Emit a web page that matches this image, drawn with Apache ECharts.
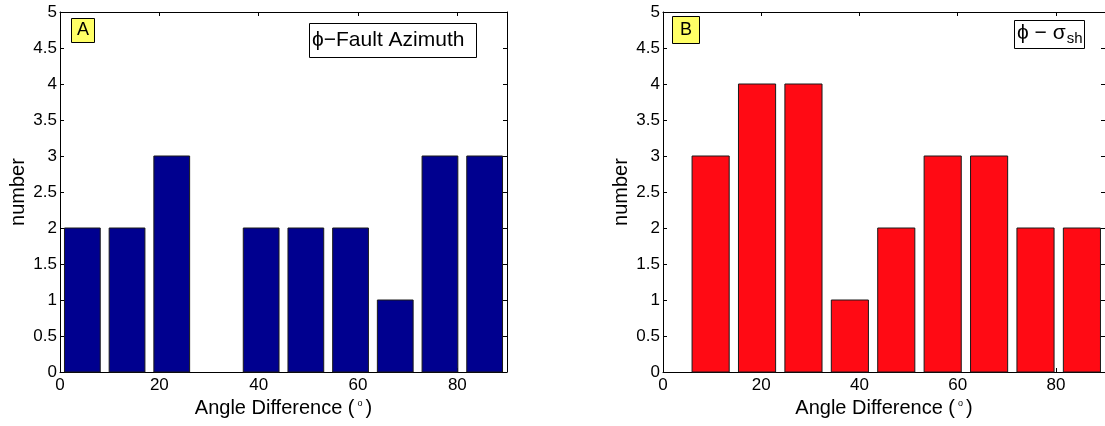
<!DOCTYPE html>
<html lang="en">
<head>
    <meta charset="utf-8" />
    <title>Angle Difference histograms</title>
    <script type="text/javascript" src="https://cdn.jsdelivr.net/npm/echarts@6/dist/echarts.min.js"></script>
    <style>
        html, body { margin: 0; padding: 0; background: #fff; }
        #chart { width: 1105px; height: 426px; }
    </style>
</head>
<body>
    <div id="chart"></div>

    <script type="text/javascript">
        // histogram A : phi - fault azimuth (10 bins, 0..90)
        var binCentersA = [4.5, 13.5, 22.5, 31.5, 40.5, 49.5, 58.5, 67.5, 76.5, 85.5];
        var countsA = [2, 2, 3, 0, 2, 2, 2, 1, 3, 3];
        var binWidthA = 9;

        // histogram B : phi - sigma_sh (9 bins)
        var binCentersB = [9.7, 19.15, 28.6, 38.05, 47.5, 56.95, 66.4, 75.85, 85.3];
        var countsB = [3, 4, 4, 1, 2, 3, 3, 2, 2];
        var binWidthB = 9.45;

        var xTicks = [0, 20, 40, 60, 80];
        var yTicks = [0, 0.5, 1, 1.5, 2, 2.5, 3, 3.5, 4, 4.5, 5];

        var FONT = "'Liberation Sans', Arial, Helvetica, sans-serif";
        var barFrac = 0.8;

        var chart = echarts.init(document.getElementById('chart'), null, { renderer: 'canvas' });

        function renderBar(params, api) {
            var c = api.value(0), h = api.value(1), w = api.value(2);
            if (h <= 0) return null;
            var p0 = api.coord([c - w / 2, h]);
            var p1 = api.coord([c + w / 2, 0]);
            return {
                type: 'rect',
                shape: { x: p0[0], y: p0[1], width: p1[0] - p0[0], height: p1[1] - p0[1] },
                style: { fill: api.visual('color'), stroke: '#1a1a1a', lineWidth: 1 }
            };
        }

        function makeData(centers, counts, bw) {
            return centers.map(function (c, i) { return [c, counts[i], bw * barFrac]; });
        }

        function bottomAxis(gridIndex) {
            return {
                type: 'value', gridIndex: gridIndex, min: 0, max: 90, interval: 20, position: 'bottom',
                name: 'Angle Difference ({deg|o})', nameLocation: 'middle', nameGap: 26,
                nameTextStyle: {
                    fontFamily: FONT, fontSize: 20, color: '#000',
                    rich: { deg: { fontFamily: FONT, fontSize: 9, color: '#000', verticalAlign: 'top', padding: [0, 3, 0, 3] } }
                },
                axisLine: { show: true, onZero: false, lineStyle: { color: '#000', width: 1 } },
                axisTick: { show: true, inside: true, length: 4, lineStyle: { color: '#000' } },
                axisLabel: {
                    fontFamily: FONT, fontSize: 17, color: '#000', margin: 5, showMaxLabel: false,
                    formatter: function (v) { return xTicks.indexOf(v) >= 0 ? String(v) : ''; }
                },
                splitLine: { show: false }
            };
        }

        function topAxis(gridIndex) {
            return {
                type: 'value', gridIndex: gridIndex, min: 0, max: 90, interval: 20, position: 'top',
                axisLine: { show: true, onZero: false, lineStyle: { color: '#000', width: 1 } },
                axisTick: { show: true, inside: true, length: 4, lineStyle: { color: '#000' } },
                axisLabel: { show: false },
                splitLine: { show: false }
            };
        }

        function leftAxis(gridIndex) {
            return {
                type: 'value', gridIndex: gridIndex, min: 0, max: 5, interval: 0.5, position: 'left',
                name: 'number', nameLocation: 'middle', nameGap: 32, nameRotate: 90,
                nameTextStyle: { fontFamily: FONT, fontSize: 20, color: '#000' },
                axisLine: { show: true, onZero: false, lineStyle: { color: '#000', width: 1 } },
                axisTick: { show: true, inside: true, length: 4, lineStyle: { color: '#000' } },
                axisLabel: { fontFamily: FONT, fontSize: 17, color: '#000', margin: 3 },
                splitLine: { show: false }
            };
        }

        function rightAxis(gridIndex) {
            return {
                type: 'value', gridIndex: gridIndex, min: 0, max: 5, interval: 0.5, position: 'right',
                axisLine: { show: true, onZero: false, lineStyle: { color: '#000', width: 1 } },
                axisTick: { show: true, inside: true, length: 4, lineStyle: { color: '#000' } },
                axisLabel: { show: false },
                splitLine: { show: false }
            };
        }

        var option = {
            backgroundColor: '#fff',
            animation: false,
            title: [
                {
                    text: 'A', left: 71, top: 18, padding: [3, 6, 4, 6],
                    backgroundColor: '#ffff66', borderColor: '#000', borderWidth: 1,
                    textStyle: { fontFamily: FONT, fontSize: 18, fontWeight: 'normal', color: '#000' }
                },
                {
                    text: 'B', left: 672, top: 16, padding: [5, 8, 5, 8],
                    backgroundColor: '#ffff66', borderColor: '#000', borderWidth: 1,
                    textStyle: { fontFamily: FONT, fontSize: 18, fontWeight: 'normal', color: '#000' }
                },
                {
                    text: '\u03d5\u2212Fault Azimuth', left: 309, top: 23, padding: [7, 12, 7, 3],
                    backgroundColor: '#fff', borderColor: '#000', borderWidth: 1,
                    textStyle: { fontFamily: FONT, fontSize: 21, fontWeight: 'normal', color: '#000' }
                },
                {
                    text: '{t|\u03d5 \u2212 \u03c3}{s|sh}', left: 1014, top: 18, padding: [3, 2, 3, 3],
                    backgroundColor: '#fff', borderColor: '#000', borderWidth: 1,
                    textStyle: {
                        fontFamily: FONT, fontSize: 21, fontWeight: 'normal', color: '#000',
                        rich: {
                            t: { fontFamily: FONT, fontSize: 21, color: '#000' },
                            s: { fontFamily: FONT, fontSize: 15, color: '#000', padding: [10, 0, 0, 1] }
                        }
                    }
                }
            ],
            grid: [
                { left: 60, top: 12, width: 447, height: 360 },
                { left: 663, top: 12, width: 447, height: 360 }
            ],
            xAxis: [bottomAxis(0), topAxis(0), bottomAxis(1), topAxis(1)],
            yAxis: [leftAxis(0), rightAxis(0), leftAxis(1), rightAxis(1)],
            series: [
                {
                    name: 'A', type: 'custom', xAxisIndex: 0, yAxisIndex: 0,
                    renderItem: renderBar, itemStyle: { color: '#00008f' },
                    encode: { x: 0, y: 1 },
                    data: makeData(binCentersA, countsA, binWidthA)
                },
                {
                    name: 'B', type: 'custom', xAxisIndex: 2, yAxisIndex: 2,
                    renderItem: renderBar, itemStyle: { color: '#ff0a14' },
                    encode: { x: 0, y: 1 },
                    data: makeData(binCentersB, countsB, binWidthB)
                }
            ]
        };

        chart.setOption(option);
    </script>
</body>
</html>
